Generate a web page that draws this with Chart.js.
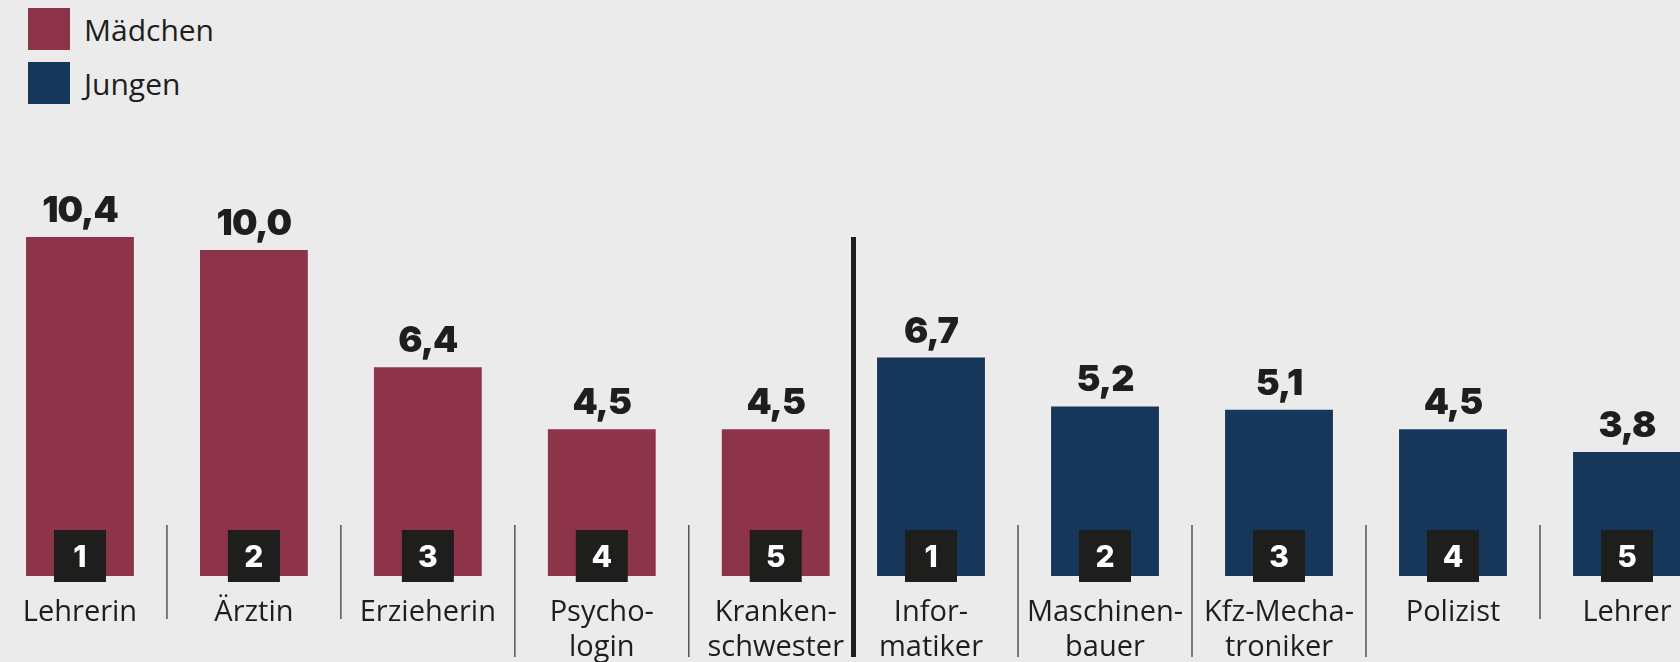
<!DOCTYPE html>
<html>
<head>
<meta charset="utf-8">
<script src="https://cdn.jsdelivr.net/npm/chart.js@4"></script>
<style>
  html, body { margin: 0; padding: 0; background: #ebebeb; }
  body { width: 1680px; height: 662px; position: relative; overflow: hidden; font-family: "Open Sans", sans-serif; color: #1e1e1c; }
  canvas { position: absolute; top: 0; }
  #girls_chart { left: -7px; }
  #boys_chart { left: 844px; }
  .legend-item { position: absolute; left: 28px; height: 42px; display: flex; align-items: center; font-size: 30px; }
  .legend-item span.box { width: 42px; height: 42px; margin-right: 14px; }
  #divider { position: absolute; left: 851px; top: 237px; width: 5px; height: 420px; background: #1e1e1c; }
</style>
</head>
<body>
<div id="legend"></div>
<canvas id="girls_chart" width="870" height="662"></canvas>
<canvas id="boys_chart" width="870" height="662"></canvas>
<div id="divider"></div>
<script>
const seriesNames = ["Mädchen", "Jungen"];
const girlsJobs = ["Lehrerin", "Ärztin", "Erzieherin", ["Psycho-", "login"], ["Kranken-", "schwester"]];
const girlsValues = [10.4, 10.0, 6.4, 4.5, 4.5];
const boysJobs = [["Infor-", "matiker"], ["Maschinen-", "bauer"], ["Kfz-Mecha-", "troniker"], "Polizist", "Lehrer"];
const boysValues = [6.7, 5.2, 5.1, 4.5, 3.8];
const ranks = [1, 2, 3, 4, 5];

const colors = ["#8e344a", "#16365a"];
const ink = "#1e1e1c";

// legend
const legend = document.getElementById("legend");
seriesNames.forEach((name, i) => {
  const item = document.createElement("div");
  item.className = "legend-item";
  item.style.top = (8 + i * 54) + "px";
  item.innerHTML = '<span class="box" style="background:' + colors[i] + '"></span>' + name;
  legend.appendChild(item);
});

const barExtras = {
  id: "barExtras",
  afterDatasetsDraw(chart) {
    const ctx = chart.ctx;
    const meta = chart.getDatasetMeta(0);
    const values = chart.data.datasets[0].data;
    const labels = chart.data.labels;
    ctx.save();
    meta.data.forEach((bar, i) => {
      // value on top
      ctx.fillStyle = ink;
      ctx.font = "900 36px Inter";
      ctx.letterSpacing = "-1px";
      ctx.textAlign = "center";
      ctx.textBaseline = "alphabetic";
      ctx.fillText(values[i].toFixed(1).replace(".", ","), bar.x, bar.y - 15);
      // rank box
      ctx.letterSpacing = "0px";
      ctx.fillRect(bar.x - 26, bar.base - 46, 52, 52);
      ctx.fillStyle = "#ffffff";
      ctx.font = "800 30px Inter";
      ctx.fillText(ranks[i], bar.x, bar.base - 9);
    });
    // thin separators between categories
    ctx.strokeStyle = "#555555";
    ctx.lineWidth = 1.5;
    for (let i = 0; i < meta.data.length - 1; i++) {
      const x = (meta.data[i].x + meta.data[i + 1].x) / 2;
      const long = Array.isArray(labels[i]) || Array.isArray(labels[i + 1]);
      ctx.beginPath();
      ctx.moveTo(x, 525);
      ctx.lineTo(x, long ? 657 : 619);
      ctx.stroke();
    }
    ctx.restore();
  }
};

function makeChart(id, labels, values, color) {
  const ctx = document.getElementById(id);
  return new Chart(ctx, {
    type: "bar",
    data: {
      labels: labels,
      datasets: [{
        label: id,
        data: values,
        backgroundColor: color,
        categoryPercentage: 1,
        barPercentage: 0.62,
      }],
    },
    options: {
      responsive: false,
      animation: false,
      layout: { padding: { top: 119.6, left: 0, right: 0, bottom: 0 } },
      plugins: { legend: { display: false }, tooltip: { enabled: false } },
      scales: {
        x: {
          offset: true,
          grid: { display: false, drawTicks: false },
          border: { display: false },
          ticks: {
            color: ink,
            font: { family: "Open Sans", size: 29, lineHeight: 1.22 },
            padding: 19,
            maxRotation: 0,
            autoSkip: false,
          },
          afterFit(scale) { scale.height = 86; },
        },
        y: { display: false, min: 0, max: 14 },
      },
    },
    plugins: [barExtras],
  });
}

makeChart("girls_chart", girlsJobs, girlsValues, colors[0]);
makeChart("boys_chart", boysJobs, boysValues, colors[1]);
</script>
</body>
</html>
